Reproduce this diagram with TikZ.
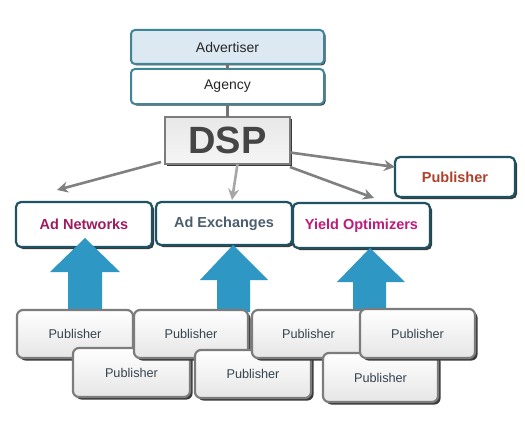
\documentclass[tikz,border=0pt]{standalone}
\usepackage{fontspec}
\setmainfont{Liberation Sans}
\usetikzlibrary{shadows,arrows.meta}
\definecolor{tealb}{HTML}{1F5262}
\definecolor{tealc}{HTML}{3F8597}
\definecolor{advfill}{HTML}{DCE9F2}
\definecolor{blueA}{HTML}{2F97C3}
\definecolor{pubgray}{HTML}{7C7C7C}
\definecolor{shad}{HTML}{3A3A3A}
\definecolor{adncol}{HTML}{9E1C5E}
\definecolor{adxcol}{HTML}{4A5E6D}
\definecolor{yocol}{HTML}{C2197C}
\definecolor{pubrcol}{HTML}{B0402C}
\definecolor{pubtext}{HTML}{34444F}
\begin{document}
\begin{tikzpicture}[x=1pt,y=-1pt,
  topbox/.style={draw=tealc, line width=2pt, rounded corners=4pt, inner sep=0pt, outer sep=0pt,
     font=\fontsize{14}{16}\selectfont, text=black!85,
     drop shadow={shadow xshift=1.5pt, shadow yshift=-1.5pt, fill=shad, opacity=1}},
  midbox/.style={draw=tealb, line width=2.2pt, rounded corners=5pt, fill=white, inner sep=0pt, outer sep=0pt,
     font=\fontsize{14.5}{16}\selectfont\bfseries,
     drop shadow={shadow xshift=2pt, shadow yshift=-2pt, fill=shad, opacity=1}},
  pubbox/.style={draw=pubgray, line width=2.2pt, rounded corners=6pt, top color=white, bottom color=black!10,
     inner sep=0pt, outer sep=0pt, minimum width=115pt, minimum height=48pt,
     font=\fontsize{12.7}{14}\selectfont, text=pubtext,
     drop shadow={shadow xshift=2.5pt, shadow yshift=-2.5pt, fill=shad, opacity=1}},
  link/.style={draw=black!55, line width=3pt},
  dsparrow/.style={draw=black!50, line width=2.6pt, -{Stealth[length=11pt,width=11pt]}},
  blockarrow/.style={fill=blueA, draw=none}
]
\useasboundingbox[fill=white] (0,0) rectangle (525,428);

% top chain
\node[topbox, fill=advfill, minimum width=193pt, minimum height=34pt] (adv) at (227.5,47) {Advertiser};
\node[topbox, fill=white, minimum width=193pt, minimum height=35pt] (agy) at (227.5,86.5) {Agency};
\node[draw=pubgray, line width=1.6pt, top color=black!9, bottom color=black!4, inner sep=0pt, outer sep=0pt,
      minimum width=125pt, minimum height=47pt, font=\fontsize{38}{40}\selectfont\bfseries, text=black!73,
      drop shadow={shadow xshift=2pt, shadow yshift=-2pt, fill=shad, opacity=1}] (dsp) at (227.5,140.5) {DSP};
\draw[link] (adv.south) -- (agy.north);
\draw[link] (agy.south) -- (dsp.north);

% middle boxes
\node[midbox, minimum width=136pt, minimum height=45pt, text=adncol] (adn) at (84,224.5) {Ad Networks};
\node[midbox, minimum width=136pt, minimum height=43pt, text=adxcol] (adx) at (224,223.5) {Ad Exchanges};
\node[midbox, minimum width=137pt, minimum height=45pt, text=yocol] (yo) at (361.5,225.5) {Yield Optimizers};
\node[midbox, minimum width=120pt, minimum height=40pt, text=pubrcol] (pubr) at (455,177) {Publisher};

% DSP arrows
\coordinate (t1) at (57,190);
\coordinate (t2) at (232,200);
\coordinate (t3) at (374,198);
\draw[dsparrow] ([xshift=-4pt,yshift=2pt]dsp.south west) -- (t1);
\draw[dsparrow, draw=black!35] ([xshift=10pt]dsp.south) -- (t2);
\draw[dsparrow] ([yshift=-3pt]dsp.south east) -- (t3);
\draw[dsparrow] ([yshift=-12pt]dsp.east) -- ([yshift=10pt]pubr.west);

% blue block arrows
\path[blockarrow] (85,238) -- (120,272) -- (102,272) -- (102,312) -- (68,312) -- (68,272) -- (50,272) -- cycle;
\path[blockarrow] (233,245) -- (268,280) -- (250,280) -- (250,312) -- (217,312) -- (217,280) -- (200,280) -- cycle;
\path[blockarrow] (370,248) -- (405,282) -- (386,282) -- (386,312) -- (353,312) -- (353,282) -- (337,282) -- cycle;

% bottom publishers
\node[pubbox, minimum width=116pt] (p1) at (75,334) {Publisher};
\node[pubbox, minimum width=117pt, minimum height=49pt] (p5) at (131.5,372.5) {Publisher};
\node[pubbox, minimum width=114pt] (p2) at (191,334) {Publisher};
\node[pubbox, minimum width=116pt] (p6) at (253,374) {Publisher};
\node[pubbox, minimum width=113pt] (p3) at (308.5,334) {Publisher};
\node[pubbox, minimum height=49pt] (p7) at (380.5,377.5) {Publisher};
\node[pubbox, minimum height=49pt] (p4) at (417.5,333.5) {Publisher};
\end{tikzpicture}
\end{document}
